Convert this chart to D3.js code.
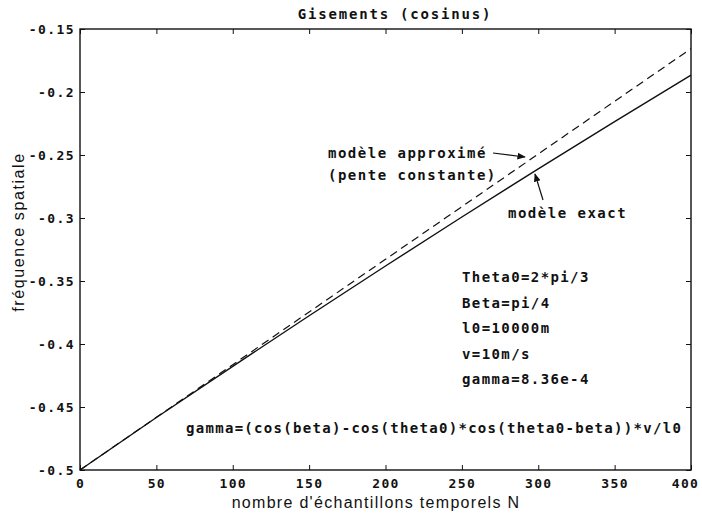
<!DOCTYPE html>
<html>
<head>
<meta charset="utf-8">
<script src="https://d3js.org/d3.v7.min.js"></script>
<style>
  body { margin: 0; background: #fff; }
  .mono { font-family: "DejaVu Sans Mono", monospace; font-weight: bold; font-size: 14px; letter-spacing: 1.5px; fill: #111; }
  .lab { font-family: "Liberation Sans", Arial, sans-serif; font-size: 16px; letter-spacing: 1.3px; fill: #111; }
</style>
</head>
<body>
<div id="chart"></div>
<script>
// samples N
const samples = [0, 50, 100, 150, 200, 250, 300, 350, 400];
// exact model (solid)
const exactModel = [-0.5, -0.4583, -0.4177, -0.3776, -0.3381, -0.2992, -0.2610, -0.2235, -0.1866];
// approximate model, constant slope (dashed)
const approxModel = [-0.5, -0.4582, -0.4164, -0.3746, -0.3328, -0.2910, -0.2492, -0.2074, -0.1656];

const xTicks = [0, 50, 100, 150, 200, 250, 300, 350, 400];
const yTicks = [-0.5, -0.45, -0.4, -0.35, -0.3, -0.25, -0.2, -0.15];
const yTickLabels = ["-0.5", "-0.45", "-0.4", "-0.35", "-0.3", "-0.25", "-0.2", "-0.15"];

const params = ["Theta0=2*pi/3", "Beta=pi/4", "l0=10000m", "v=10m/s", "gamma=8.36e-4"];
const formula = "gamma=(cos(beta)-cos(theta0)*cos(theta0-beta))*v/l0";

const width = 702, height = 515;
const plotL = 80, plotR = 691, plotT = 29, plotB = 470;

const svg = d3.select("#chart").append("svg")
    .attr("width", width)
    .attr("height", height);

const x = d3.scaleLinear().domain([0, 400]).range([plotL, plotR]);
const y = d3.scaleLinear().domain([-0.5, -0.15]).range([plotB, plotT]);

// arrow marker
svg.append("defs").append("marker")
    .attr("id", "arr")
    .attr("viewBox", "0 0 10 10")
    .attr("refX", 9).attr("refY", 5)
    .attr("markerWidth", 7).attr("markerHeight", 7)
    .attr("orient", "auto")
    .append("path")
    .attr("d", "M0,1 L10,5 L0,9 Z")
    .attr("fill", "#111");

// axes (ticks inward, mirrored on top/right)
const fmtY = d => yTickLabels[yTicks.indexOf(d)];

const gx = svg.append("g").attr("transform", `translate(0,${plotB})`)
    .call(d3.axisBottom(x).tickValues(xTicks).tickSize(-5).tickPadding(9).tickSizeOuter(0));
svg.append("g").attr("transform", `translate(${plotL},0)`)
    .call(d3.axisLeft(y).tickValues(yTicks).tickFormat(fmtY).tickSize(-5).tickPadding(5).tickSizeOuter(0));
svg.append("g").attr("transform", `translate(0,${plotT})`)
    .call(d3.axisTop(x).tickValues(xTicks).tickSize(-5).tickFormat("").tickSizeOuter(0));
svg.append("g").attr("transform", `translate(${plotR},0)`)
    .call(d3.axisRight(y).tickValues(yTicks).tickSize(-5).tickFormat("").tickSizeOuter(0));

svg.selectAll(".domain").remove();
svg.selectAll(".tick line").attr("stroke", "#111");
svg.selectAll(".tick text").attr("class", "mono")
    .style("font-size", "13px").style("letter-spacing", "1.4px");

// last x label sits against the page edge
gx.selectAll(".tick text").filter(d => d === 400).attr("dx", -6);

// frame
svg.append("rect")
    .attr("x", plotL).attr("y", plotT)
    .attr("width", plotR - plotL).attr("height", plotB - plotT)
    .attr("fill", "none").attr("stroke", "#111").attr("stroke-width", 1.4);

// lines
const line = d3.line().x((d, i) => x(samples[i])).y(d => y(d));

svg.append("path").datum(approxModel)
    .attr("d", line)
    .attr("fill", "none").attr("stroke", "#111").attr("stroke-width", 1.2)
    .attr("stroke-dasharray", "8,5");

svg.append("path").datum(exactModel)
    .attr("d", line)
    .attr("fill", "none").attr("stroke", "#111").attr("stroke-width", 1.4);

// title
svg.append("text").attr("class", "mono")
    .attr("x", 395).attr("y", 19)
    .attr("text-anchor", "middle")
    .style("letter-spacing", "1.8px")
    .text("Gisements (cosinus)");

// axis labels
svg.append("text").attr("class", "lab")
    .attr("x", 376).attr("y", 508)
    .attr("text-anchor", "middle")
    .text("nombre d'échantillons temporels N");

svg.append("text").attr("class", "lab")
    .attr("transform", "translate(24,232) rotate(-90)")
    .attr("text-anchor", "middle")
    .style("letter-spacing", "1.6px")
    .text("fréquence spatiale");

// annotations
svg.append("text").attr("class", "mono")
    .attr("x", 328).attr("y", 158).text("modèle approximé");
svg.append("text").attr("class", "mono")
    .attr("x", 328).attr("y", 180).text("(pente constante)");
svg.append("text").attr("class", "mono")
    .attr("x", 508).attr("y", 218).text("modèle exact");

svg.append("line")
    .attr("x1", 493).attr("y1", 153).attr("x2", 525).attr("y2", 157)
    .attr("stroke", "#111").attr("stroke-width", 1.2)
    .attr("marker-end", "url(#arr)");
svg.append("line")
    .attr("x1", 543).attr("y1", 200).attr("x2", 535).attr("y2", 174)
    .attr("stroke", "#111").attr("stroke-width", 1.2)
    .attr("marker-end", "url(#arr)");

// parameters
svg.selectAll(".param").data(params).enter()
    .append("text").attr("class", "mono param")
    .attr("x", 462)
    .attr("y", (d, i) => 282 + i * 25.5)
    .style("letter-spacing", "1.4px")
    .text(d => d);

svg.append("text").attr("class", "mono")
    .attr("x", 186).attr("y", 433)
    .style("letter-spacing", "1.3px")
    .text(formula);
</script>
</body>
</html>
